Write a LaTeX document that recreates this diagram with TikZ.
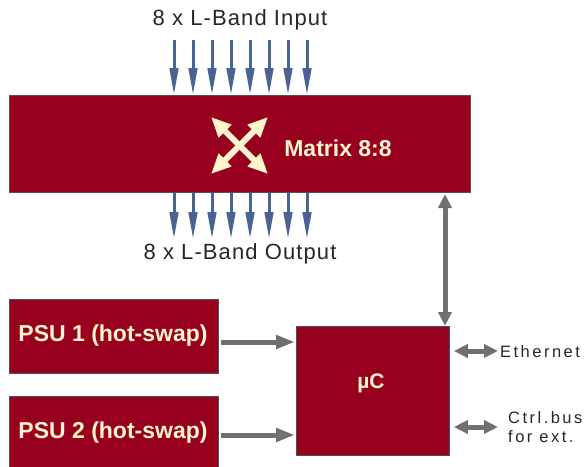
\documentclass[tikz,border=0pt]{standalone}
\usepackage{fontspec}
\setmainfont{Liberation Sans}
\newfontfamily\spacedfont[LetterSpace=5]{Liberation Sans}
\newfontfamily\widefont[LetterSpace=15]{Liberation Sans}
\usetikzlibrary{arrows.meta}
\definecolor{boxred}{RGB}{152,0,32}
\definecolor{boxedge}{RGB}{80,80,80}
\definecolor{cream}{RGB}{255,246,204}
\definecolor{sigblue}{RGB}{74,100,146}
\definecolor{ctlgray}{RGB}{112,112,112}
\begin{document}
\begin{tikzpicture}[x=1pt,y=-1pt,
  redbox/.style={draw=boxedge,line width=0.8pt,fill=boxred,rectangle,anchor=north west,inner sep=0pt},
  boxtext/.style={text=cream,font=\bfseries\fontsize{23}{25}\selectfont,inner sep=0pt},
  sigarrow/.style={draw=sigblue,line width=3pt,-{Triangle[length=27pt,width=8.5pt]}},
  ctlarrow/.style={draw=ctlgray,line width=5pt,-{Triangle[length=19pt,width=13pt]}},
  ctldouble/.style={draw=ctlgray,line width=5pt,{Triangle[length=14pt,width=13pt]}-{Triangle[length=14pt,width=13pt]}},
  crossarrow/.style={draw=cream,line width=6pt,{Triangle[length=20pt,width=17pt]}-{Triangle[length=20pt,width=17pt]}},
  lbl/.style={font=\spacedfont\fontsize{22}{24}\selectfont,text=black!85,inner sep=0pt},
  smalllbl/.style={font=\widefont\fontsize{16.5}{19}\selectfont,text=black!85,inner sep=0pt,anchor=west,align=left}
]
\useasboundingbox (0,0) rectangle (588,466);

% boxes
\node[redbox,minimum width=461pt,minimum height=97pt] (matrix) at (9,95) {};
\node[redbox,minimum width=209pt,minimum height=74pt] (psu1) at (9,299) {};
\node[redbox,minimum width=209pt,minimum height=72pt] (psu2) at (9,396) {};
\node[redbox,minimum width=153pt,minimum height=129pt] (uc) at (296,326) {};

% box texts
\node[boxtext] (mtxt) at (338,148) {Matrix 8:8};
\node[boxtext] (p1txt) at (113,336) {PSU 1 (hot-swap)};
\node[boxtext] (p2txt) at (113,433) {PSU 2 (hot-swap)};
\node[boxtext,font=\bfseries\fontsize{21}{23}\selectfont] (uctxt) at (371,383) {µC};

% cross symbol
\coordinate (c1) at (211,117);
\coordinate (c2) at (268,174);
\coordinate (c3) at (268,117);
\coordinate (c4) at (211,174);
\draw[crossarrow] (c1) -- (c2);
\draw[crossarrow] (c3) -- (c4);

% labels
\node[lbl] (inlbl) at (240,20) {8 x L-Band Input};
\node[lbl] (outlbl) at (240,254) {8 x L-Band Output};

% input / output arrows
\foreach \i in {0,...,7}{
  \coordinate (in\i) at ({174+19*\i},40);
  \draw[sigarrow] (in\i) -- (in\i |- matrix.north);
  \coordinate (out\i) at ({174+19*\i},239);
  \draw[sigarrow] (out\i |- matrix.south) -- (out\i);
}

% PSU to uC
\coordinate (a1) at (221,342);
\coordinate (a2) at (221,435);
\draw[ctlarrow] (a1) -- ([xshift=-1pt]a1 -| uc.west);
\draw[ctlarrow] (a2) -- ([xshift=-1pt]a2 -| uc.west);

% uC to matrix
\coordinate (va) at (445,194);
\draw[ctldouble] (va) -- (va |- uc.north);

% external
\coordinate (eth) at (498,351);
\coordinate (ctl) at (498,427);
\draw[ctldouble] ([xshift=4pt]uc.east |- eth) -- (eth);
\draw[ctldouble] ([xshift=4pt]uc.east |- ctl) -- (ctl);
\node[smalllbl] (ethtxt) at (500,352) {Ethernet};
\node[smalllbl] (ctltxt) at (508,427) {Ctrl.bus\\for ext.};
\end{tikzpicture}
\end{document}
